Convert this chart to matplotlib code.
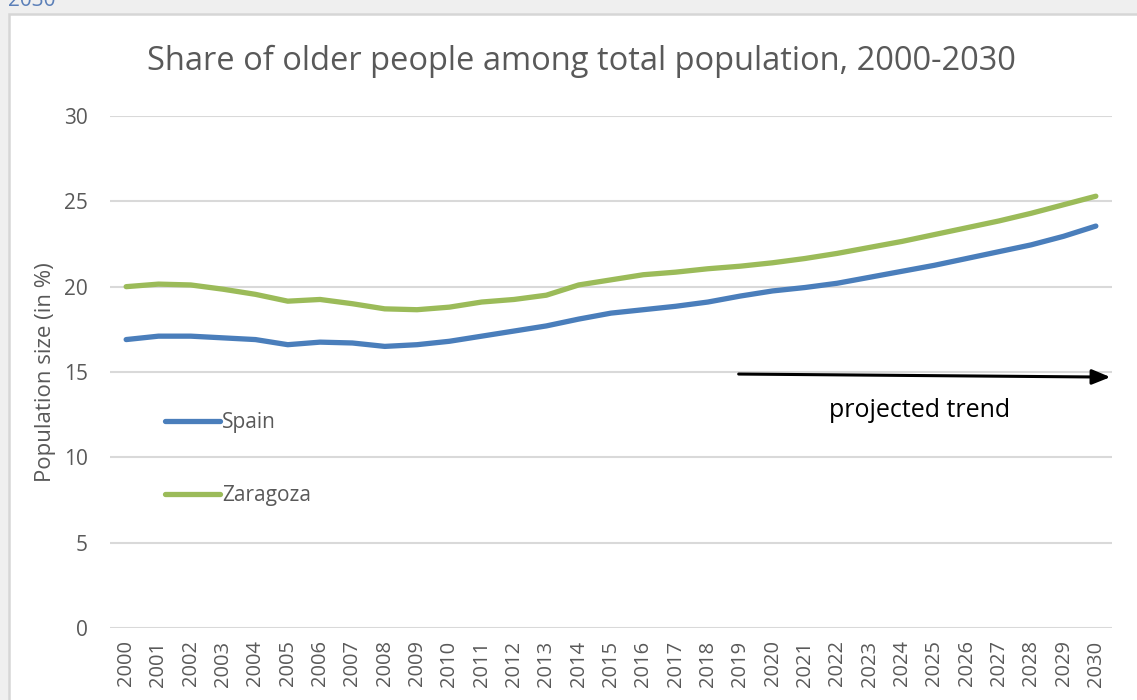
import matplotlib
matplotlib.use("Agg")
import matplotlib.pyplot as plt
from matplotlib.patches import Rectangle

years = [str(y) for y in range(2000, 2031)]
spain = [16.9, 17.1, 17.1, 17.0, 16.9, 16.6, 16.75, 16.7, 16.5, 16.6,
         16.8, 17.1, 17.4, 17.7, 18.1, 18.45, 18.65, 18.85, 19.1, 19.45,
         19.75, 19.95, 20.2, 20.55, 20.9, 21.25, 21.65, 22.05, 22.45, 22.95, 23.55]
zaragoza = [20.0, 20.15, 20.1, 19.85, 19.55, 19.15, 19.25, 19.0, 18.7, 18.65,
            18.8, 19.1, 19.25, 19.5, 20.1, 20.4, 20.7, 20.85, 21.05, 21.2,
            21.4, 21.65, 21.95, 22.3, 22.65, 23.05, 23.45, 23.85, 24.3, 24.8, 25.3]
yticks = [0, 5, 10, 15, 20, 25, 30]

FONT = ["Open Sans", "DejaVu Sans"]
plt.rcParams["font.family"] = FONT
GREY = "#595959"

W, H = 1137, 700
fig = plt.figure(figsize=(W / 100, H / 100), dpi=100, facecolor="#efefef")

# white chart box with grey border
fig.patches.append(Rectangle((9 / W, -0.05), 1.1, 1 - 14 / H + 0.05,
                             transform=fig.transFigure, facecolor="white",
                             edgecolor="#d6d6d6", linewidth=1.8, zorder=-10))
fig.text(8 / W, 1 - 6 / H, "2030", color="#5b7fb8", fontsize=15,
         va="baseline", ha="left")

ax = fig.add_axes([110 / W, 1 - 628 / H, (1112 - 110) / W, (628 - 116) / H])
ax.set_zorder(1)
ax.set_facecolor("none")
x = list(range(len(years)))
ax.plot(x, spain, color="#4a7ebb", lw=3.8, solid_capstyle="round",
        solid_joinstyle="round", label="Spain", zorder=3)
ax.plot(x, zaragoza, color="#9bbb59", lw=3.8, solid_capstyle="round",
        solid_joinstyle="round", label="Zaragoza", zorder=3)

ax.set_xlim(-0.5, len(years) - 0.5)
ax.set_ylim(0, 30)
ax.set_yticks(yticks)
ax.set_xticks(x)
ax.set_xticklabels(years, rotation=90)
ax.tick_params(axis="both", length=0, colors=GREY)
ax.tick_params(axis="y", pad=16, labelsize=15)
ax.tick_params(axis="x", pad=9, labelsize=14.5)
ax.grid(axis="y", color="#d9d9d9", lw=1.5)
ax.set_axisbelow(True)
for s in ax.spines.values():
    s.set_visible(False)

ax.set_ylabel("Population size (in %)", color=GREY, fontsize=16)
ax.yaxis.set_label_coords(-(110 - 56) / 1002, 0.5)
fig.text(581 / W, 1 - 61 / H, "Share of older people among total population, 2000-2030",
         ha="center", va="center", fontsize=23.5, color=GREY)

leg = ax.legend(loc="center left", bbox_to_anchor=((165 - 110) / 1002, (628 - 459) / 512),
                frameon=False, fontsize=15, handlelength=2.65, handletextpad=0.1,
                labelspacing=2.5, borderpad=0, borderaxespad=0, labelcolor=GREY)

ax.annotate("", xy=(30.45, 14.7), xytext=(18.95, 14.88),
            arrowprops=dict(arrowstyle="-|>,head_length=1.1,head_width=0.45",
                            color="black", lw=2.2, shrinkA=0, shrinkB=0))
ax.text(24.55, 12.75, "projected trend", ha="center", va="center",
        fontsize=18, color="black")

fig.savefig("out.png", dpi=100, facecolor=fig.get_facecolor())
